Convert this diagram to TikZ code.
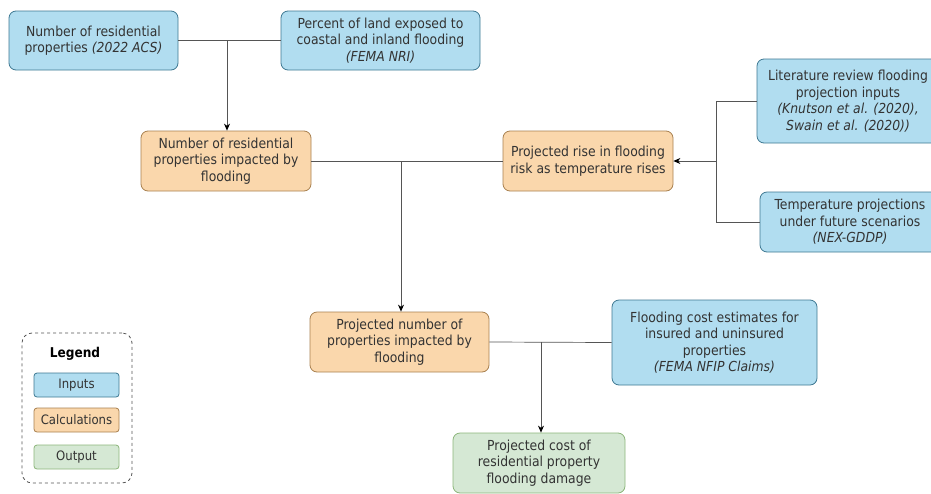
\documentclass[tikz,border=0pt]{standalone}
\usepackage{fontspec}
\setmainfont{DejaVu Sans Condensed}
\usetikzlibrary{arrows.meta,positioning}
\definecolor{infill}{HTML}{B1DDF0}
\definecolor{indraw}{HTML}{3E7892}
\definecolor{calfill}{HTML}{FAD7AC}
\definecolor{caldraw}{HTML}{A8804F}
\definecolor{outfill}{HTML}{D5E8D4}
\definecolor{outdraw}{HTML}{8CB57A}
\definecolor{txt}{HTML}{333333}
\definecolor{ln}{HTML}{555555}
\tikzset{
  base/.style={rounded corners=7pt, line width=0.8pt, align=center, text=txt,
    font=\fontsize{13.8}{16.5}\selectfont, inner sep=1pt},
  inbox/.style={base, fill=infill, draw=indraw},
  calbox/.style={base, fill=calfill, draw=caldraw},
  outbox/.style={base, fill=outfill, draw=outdraw},
  conn/.style={draw=ln, line width=0.7pt},
  arr/.style={conn, -{Stealth[length=7pt,width=6pt,color=black]}},
  legbox/.style={rounded corners=3pt, minimum width=85pt, minimum height=24pt, font=\fontsize{13}{15}\selectfont},
}
\begin{document}
\begin{tikzpicture}[x=1pt,y=-1pt]
\useasboundingbox (0,0) rectangle (931,493);
% inputs
\node[inbox, minimum width=169pt, minimum height=59pt] (acs) at (93.5,40.5) {Number of residential\\properties \textit{(2022 ACS)}};
\node[inbox, minimum width=199pt, minimum height=59pt] (nri) at (380.5,40.5) {Percent of land exposed to\\coastal and inland flooding\\\textit{(FEMA NRI)}};
\node[calbox, minimum width=170pt, minimum height=60pt] (imp) at (226,161) {Number of residential\\properties impacted by\\flooding};
\node[calbox, minimum width=170pt, minimum height=60pt] (rise) at (588,161) {Projected rise in flooding\\risk as temperature rises};
\node[inbox, minimum width=182pt, minimum height=84pt] (lit) at (848,101) {Literature review flooding\\projection inputs\\\textit{(Knutson et al. (2020),}\\\textit{Swain et al. (2020))}};
\node[inbox, minimum width=180pt, minimum height=60pt] (temp) at (850,222) {Temperature projections\\under future scenarios\\\textit{(NEX-GDDP)}};
\node[calbox, minimum width=179pt, minimum height=60pt] (pnum) at (399.5,342) {Projected number of\\properties impacted by\\flooding};
\node[inbox, minimum width=205pt, minimum height=85pt] (cost) at (714.5,342.5) {Flooding cost estimates for\\insured and uninsured\\properties\\\textit{(FEMA NFIP Claims)}};
\node[outbox, minimum width=172pt, minimum height=60pt] (out) at (539,463) {Projected cost of\\residential property\\flooding damage};
% connectors
\coordinate (j1) at (227,41);
\draw[conn] (acs.east) -- (nri.west);
\draw[arr] (j1) -- (j1 |- imp.north);
\coordinate (j2) at (401,161);
\draw[conn] (imp.east) -- (rise.west);
\draw[arr] (j2) -- (j2 |- pnum.north);
\coordinate (j3) at (716,161);
\draw[conn] (lit.west) -| (j3) |- (temp.west);
\draw[arr] (j3) -- (rise.east);
\coordinate (j4) at (541,342);
\draw[conn] (pnum.east) -- (cost.west);
\draw[arr] (j4) -- (j4 |- out.north);
% legend
\node[draw=ln, dashed, rounded corners=10pt, line width=0.8pt, minimum width=110pt, minimum height=150pt] (leg) at (77,408) {};
\node[text=black, font=\bfseries\fontsize{13.5}{15}\selectfont] (legt) at (75,354) {Legend};
\node[inbox, legbox] (li) at (76.5,385) {Inputs};
\node[calbox, legbox] (lc) at (76.5,420) {Calculations};
\node[outbox, legbox] (lo) at (76.5,457) {Output};
\end{tikzpicture}
\end{document}
